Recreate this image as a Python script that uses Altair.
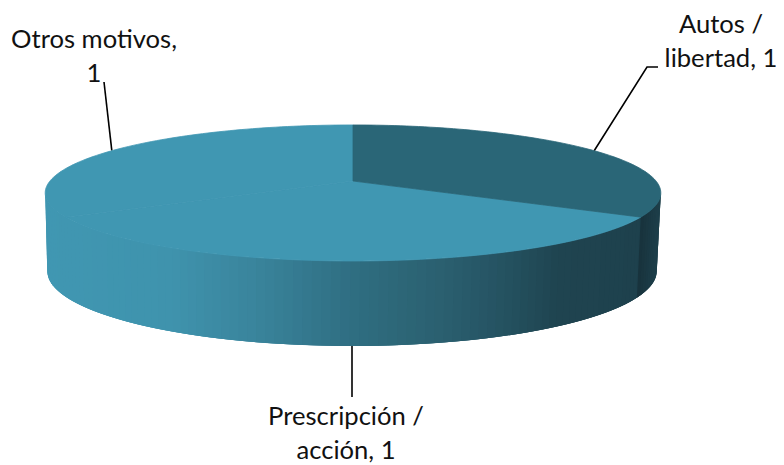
import math
import altair as alt
import pandas as pd

# ---- chart values
categories = ["Autos / libertad", "Prescripción / acción", "Otros motivos"]
values = [1, 1, 1]
label_lines = [["Autos /", "libertad, 1"], ["Prescripción /", "acción, 1"], ["Otros motivos,", "1"]]

# ---- styling and layout (page pixels)
W, H = 768, 457
slice_colors = ["#2a6677", "#4097b2", "#4097b2"]
wall_stops = [(44, "#4097b2"), (170, "#3f93ad"), (250, "#3a859d"), (300, "#357a90"), (352, "#2f6e82"),
              (400, "#2d6778"), (450, "#2a5e6e"), (500, "#255362"), (560, "#1f4450"), (640, "#1e414d")]
dark_stops = [(639, "#17313b"), (662, "#1e404c")]
TOP = dict(cx=353, cy=181, a=303, b=65.9)
BOT = dict(cx=352, cy=258, a=300, b=72.5)
K = 0.176
label_anchor = [[(647, 67), (658, 67)], [(352, 397)], [(104, 82)]]
label_xy = [[(721, 33), (721, 67)], [(346, 425), (346, 459)], [(94, 48), (94, 82)]]
FONT = "Lato"
FSIZE = 25.6


def rim(phi, p):
    u, v = math.sin(math.radians(phi)), -math.cos(math.radians(phi))
    d = 1 - K * v
    return p["cx"] + p["a"] * u / d, p["cy"] + p["b"] * v / d


def mix(stops, x):
    if x <= stops[0][0]:
        return stops[0][1]
    for (x0, c0), (x1, c1) in zip(stops, stops[1:]):
        if x <= x1:
            t = (x - x0) / (x1 - x0)
            rgb = [round(int(c0[i:i + 2], 16) * (1 - t) + int(c1[i:i + 2], 16) * t) for i in (1, 3, 5)]
            return "#%02x%02x%02x" % tuple(rgb)
    return stops[-1][1]


total = sum(values)
edges = [0]
for val in values:
    edges.append(edges[-1] + val / total * 360)

# top faces, drawn from the slice values
top_rows = []
for s, name in enumerate(categories):
    a0, a1 = edges[s], edges[s + 1]
    pts = [(TOP["cx"], TOP["cy"])]
    n = 90
    pts += [rim(a0 + (a1 - a0) * j / n, TOP) for j in range(n + 1)]
    for i, (x, y) in enumerate(pts):
        top_rows.append(dict(poly=name, i=i, x=x, y=y, col=slice_colors[s]))

# outer wall strips, painted left to right, each one running under the next
wall_rows = []
step = 1.5
phi = 259.9
k = 0
while phi > 100.1:
    nxt = max(phi - step, 100.1)
    if phi > edges[1] and nxt < edges[1]:
        nxt = edges[1]
    over = max(nxt - 2 * step, 100.1)
    xa, _ = rim(phi, TOP)
    xb, _ = rim(nxt, TOP)
    xm = (xa + xb) / 2
    stops = dark_stops if (phi + nxt) / 2 < edges[1] else wall_stops
    col = mix(stops, xm)
    corners = [rim(phi, TOP), rim(over, TOP), rim(over, BOT), rim(phi, BOT)]
    for i, (x, y) in enumerate(corners):
        wall_rows.append(dict(poly="w%03d" % k, i=i, x=x, y=y, col=col))
    phi = nxt
    k += 1

# leader lines and labels
leader_rows, text_rows = [], []
for s, name in enumerate(categories):
    mid = (edges[s] + edges[s + 1]) / 2
    level = BOT if 100 < mid < 260 else TOP
    pts = [rim(mid, level)] + label_anchor[s]
    for i, (x, y) in enumerate(pts):
        leader_rows.append(dict(name=name, i=i, x=x, y=y))
    for line, (x, y) in zip(label_lines[s], label_xy[s]):
        text_rows.append(dict(t=line, x=x, y=y))

xs = alt.Scale(domain=[8, 8 + W], range=[0, W], nice=False, zero=False)
ys = alt.Scale(domain=[8, 8 + H], range=[0, H], nice=False, zero=False)
X = alt.X("x:Q", scale=xs, axis=None)
Y = alt.Y("y:Q", scale=ys, axis=None)


def polys(rows, sw):
    return alt.Chart(pd.DataFrame(rows)).mark_line(filled=True, strokeWidth=sw, interpolate="linear-closed").encode(
        x=X, y=Y, detail="poly:N", order="i:Q",
        color=alt.Color("col:N", scale=None, legend=None),
        stroke=alt.Stroke("col:N", scale=None, legend=None),
    )


# draw the light faces first, then the dark one over them
top_order = [r for r in top_rows if r["poly"] != categories[0]] + [r for r in top_rows if r["poly"] == categories[0]]

leaders = alt.Chart(pd.DataFrame(leader_rows)).mark_line(color="#000000", strokeWidth=1.6).encode(
    x=X, y=Y, detail="name:N", order="i:Q"
)
texts = alt.Chart(pd.DataFrame(text_rows)).mark_text(
    font=FONT, fontSize=FSIZE, color="#111111", align="center", baseline="alphabetic"
).encode(x=X, y=Y, text="t:N")

chart = alt.layer(leaders, polys(wall_rows, 0), polys(top_order, 0.8), texts).properties(
    width=W, height=H, padding=0, autosize=alt.AutoSizeParams(type="none")
).configure_view(stroke=None)

chart.save("out.html", embed_options={"renderer": "svg", "actions": False})
